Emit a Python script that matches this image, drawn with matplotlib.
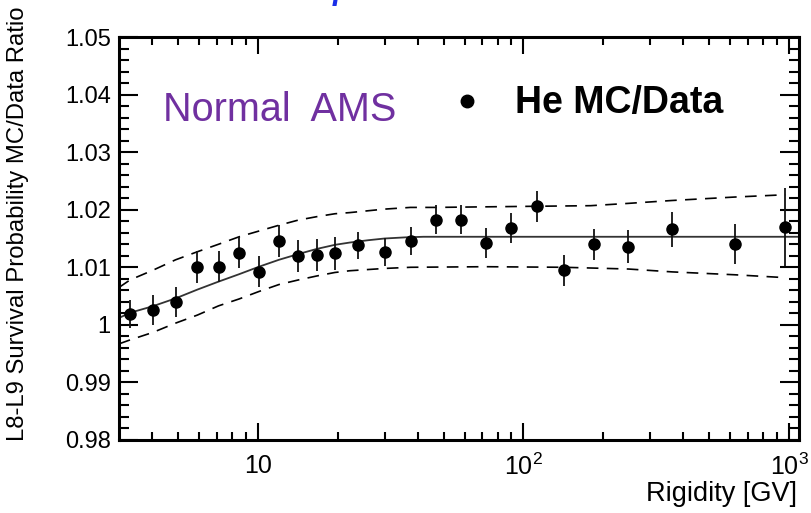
import matplotlib
matplotlib.use("Agg")
import matplotlib.pyplot as plt
from matplotlib.ticker import FixedLocator, NullFormatter, FixedFormatter

plt.rcParams['font.family'] = ['Liberation Sans', 'DejaVu Sans']
plt.rcParams['mathtext.fontset'] = 'custom'
plt.rcParams['mathtext.rm'] = 'Liberation Sans'
plt.rcParams['mathtext.it'] = 'Liberation Sans:italic'

# ---- data ----
rigidity = [3.31, 4.03, 4.90, 5.92, 7.11, 8.50, 10.1, 12.0, 14.2, 16.7, 19.5, 23.8,
            30.0, 37.6, 46.8, 58.2, 72.1, 89.6, 112, 142, 184, 248, 363, 624, 968]
ratio = [1.0019, 1.0026, 1.0040, 1.0101, 1.0101, 1.0125, 1.0092, 1.0146, 1.0120,
         1.0122, 1.0124, 1.0138, 1.0127, 1.0146, 1.0183, 1.0183, 1.0142, 1.0169,
         1.0206, 1.0095, 1.0140, 1.0136, 1.0166, 1.0140, 1.0170]
ratio_err = [0.0025, 0.0026, 0.0026, 0.0028, 0.0027, 0.0027, 0.0027, 0.0028, 0.0028,
             0.0028, 0.0029, 0.0024, 0.0024, 0.0024, 0.0025, 0.0026, 0.0026, 0.0026,
             0.0027, 0.0027, 0.0027, 0.0028, 0.0030, 0.0035, 0.0067]

fit_r = [3.0, 3.3, 4.0, 4.9, 5.9, 7.1, 8.5, 10.1, 12.0, 14.2, 16.7, 19.5, 22.2, 26.0,
         30.0, 36.0, 42.0, 1090]
fit_v = [1.0012, 1.0021, 1.0032, 1.0046, 1.0061, 1.0075, 1.0088, 1.0101, 1.0113,
         1.0123, 1.0132, 1.0139, 1.0143, 1.0147, 1.0150, 1.0152, 1.0153, 1.0153]

up_r = [3.0, 3.3, 4.03, 4.9, 5.92, 7.11, 8.5, 10.1, 12.0, 14.2, 16.7, 19.5, 22.2,
        29.9, 37.5, 46.8, 71.8, 112, 179, 248, 362, 624, 968]
up_v = [1.0065, 1.0078, 1.0095, 1.0113, 1.0127, 1.0140, 1.0153, 1.0163, 1.0173,
        1.0182, 1.0188, 1.0193, 1.0195, 1.0201, 1.0204, 1.0204, 1.0205, 1.0206,
        1.0207, 1.0211, 1.0216, 1.0222, 1.0226]

lo_r = [3.0, 3.31, 4.03, 4.9, 5.92, 7.11, 8.5, 10.1, 12.0, 14.2, 16.7, 19.5, 22.2,
        30.0, 37.6, 72, 142, 248, 363, 624, 968]
lo_v = [0.9967, 0.9974, 0.9987, 1.0003, 1.0017, 1.0033, 1.0045, 1.0058, 1.0070,
        1.0078, 1.0085, 1.0091, 1.0094, 1.0098, 1.0100, 1.0101, 1.0100, 1.0097,
        1.0092, 1.0087, 1.0082]

x_major = [10, 100, 1000]
x_major_labels = ["10", "$10^{2}$", "$10^{3}$"]
x_minor = [4, 5, 6, 7, 8, 9, 20, 30, 40, 50, 60, 70, 80, 90,
           200, 300, 400, 500, 600, 700, 800, 900]
y_major = [0.98, 0.99, 1.00, 1.01, 1.02, 1.03, 1.04, 1.05]
y_major_labels = ["0.98", "0.99", "1", "1.01", "1.02", "1.03", "1.04", "1.05"]

# ---- figure ----
W, H = 812, 513
fig = plt.figure(figsize=(W / 100, H / 100), dpi=100)
ax = fig.add_axes([119 / W, (H - 440) / H, (799 - 119) / W, (440 - 37) / H])

ax.set_xscale('log')
ax.set_xlim(3.0, 1090)
ax.set_ylim(0.98, 1.05)

ax.plot(fit_r, fit_v, color='#333333', lw=1.3, zorder=2)
ax.plot(up_r, up_v, color='black', lw=1.2, dashes=(7, 5), zorder=2)
ax.plot(lo_r, lo_v, color='black', lw=1.2, dashes=(7, 5), zorder=2)

ax.errorbar(rigidity, ratio, yerr=ratio_err, fmt='o', color='black', ms=8,
            ecolor='#111111', elinewidth=1.3, capsize=0, zorder=3)

# ticks
ax.xaxis.set_major_locator(FixedLocator(x_major))
ax.xaxis.set_major_formatter(FixedFormatter(x_major_labels))
ax.xaxis.set_minor_locator(FixedLocator(x_minor))
ax.xaxis.set_minor_formatter(NullFormatter())
ax.yaxis.set_major_locator(FixedLocator(y_major))
ax.yaxis.set_major_formatter(FixedFormatter(y_major_labels))
ax.yaxis.set_minor_locator(FixedLocator([0.98 + 0.002 * i for i in range(36)]))

ax.tick_params(axis='both', which='both', direction='in', top=True, right=True,
               width=1.5, colors='black')
ax.tick_params(axis='x', which='major', length=12, pad=10, labelsize=18)
ax.tick_params(axis='x', which='minor', length=6)
ax.tick_params(axis='y', which='major', length=14, pad=6, labelsize=17)
ax.tick_params(axis='y', which='minor', length=7)

for s in ax.spines.values():
    s.set_linewidth(2.2)

# texts
fig.text(797 / W, 1 - 494 / H, "Rigidity [GV]", fontsize=19.5, ha='right', va='center')
fig.text(18 / W, 1 - 441 / H, "L8-L9 Survival Probability MC/Data Ratio", fontsize=17.2,
         rotation=90, ha='center', va='bottom')

ax.text(163 / W, 1 - 110 / H, "Normal  AMS", transform=fig.transFigure,
        color='#7030A0', fontsize=28.5, ha='left', va='center')
ax.plot([467 / W], [1 - 101 / H], 'o', color='black', ms=9, transform=fig.transFigure,
        clip_on=False)
ax.text(515 / W, 1 - 103 / H, "He MC/Data", transform=fig.transFigure,
        color='black', fontsize=27, fontweight='bold', ha='left', va='center')

fig.text(342 / W, 1 + 1 / H, "p", color='#1a2ee8', fontsize=22, fontweight='bold',
         style='italic', ha='center', va='baseline')

fig.savefig("out.png", dpi=100)
